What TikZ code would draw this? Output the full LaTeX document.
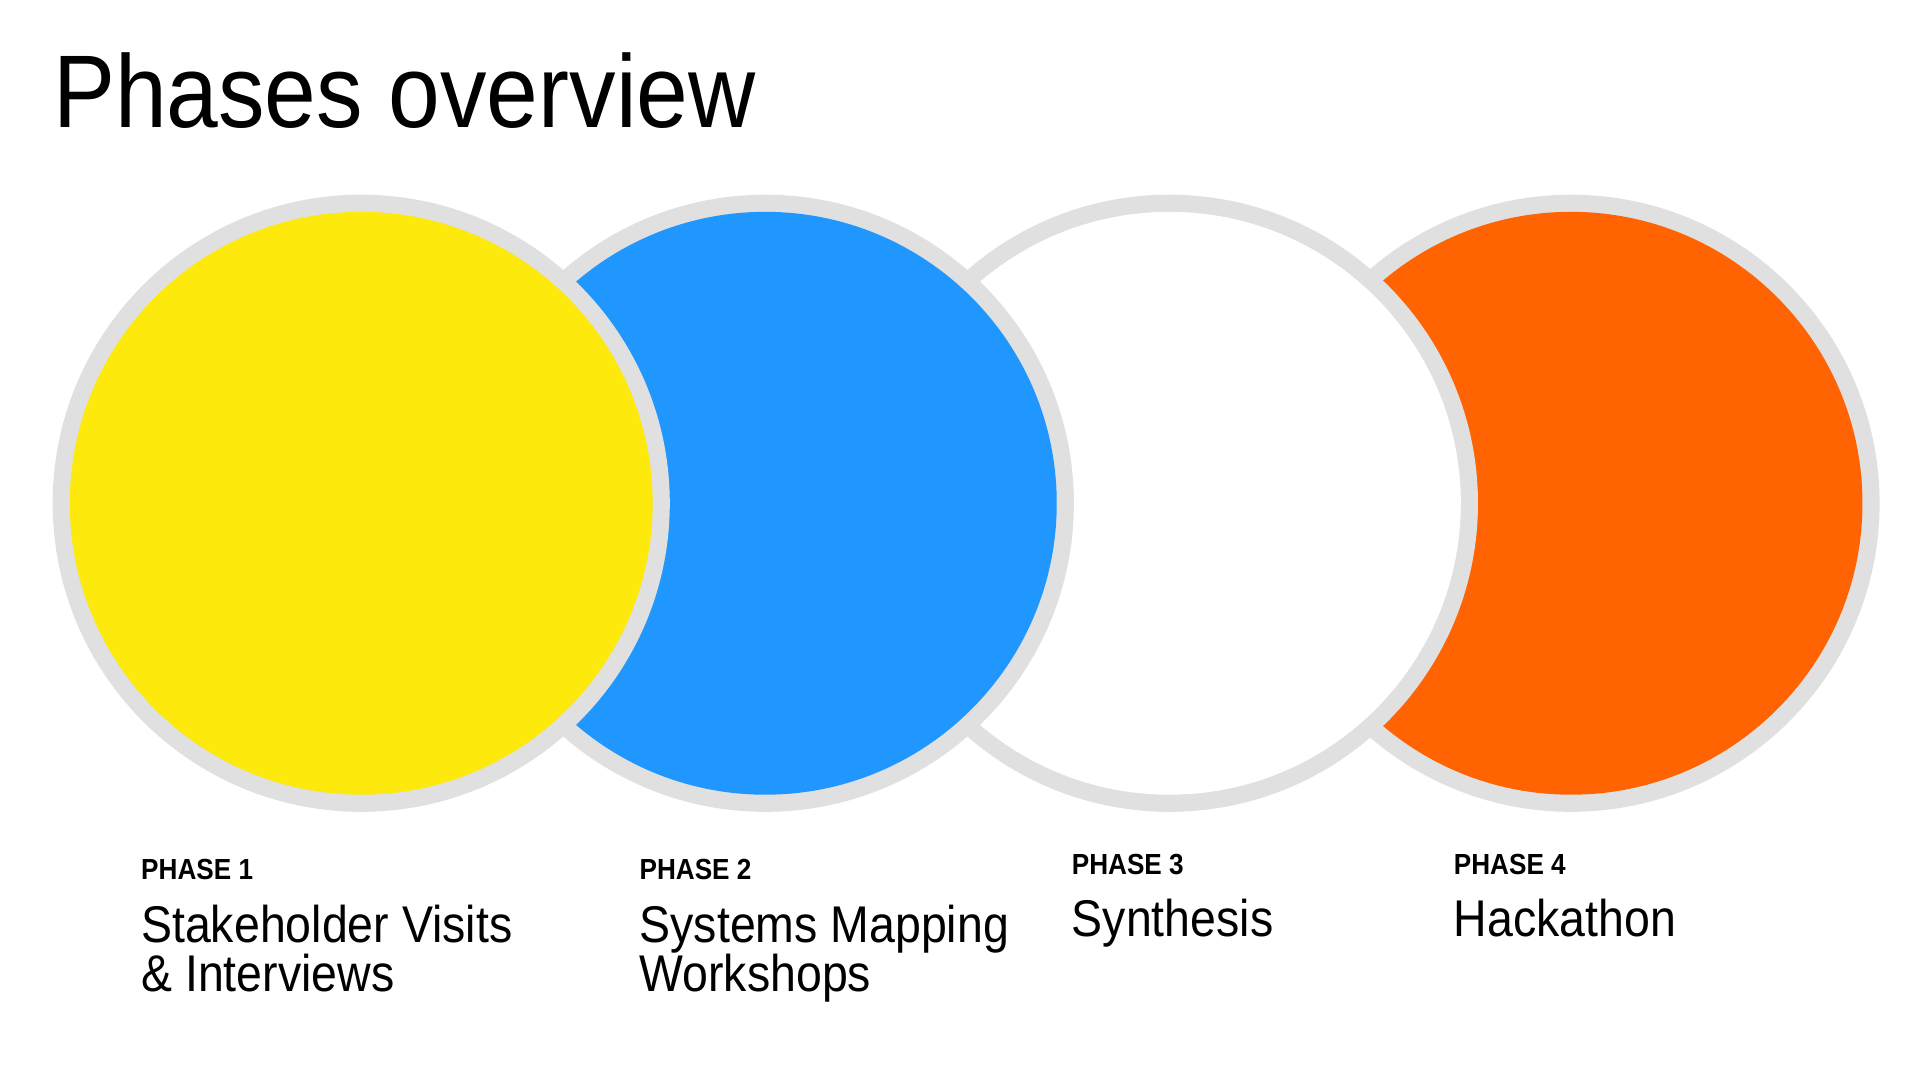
\documentclass[tikz,border=0pt]{standalone}
\usepackage{fontspec}
\setmainfont{Liberation Sans}[FakeStretch=0.9]
\usetikzlibrary{positioning}
\definecolor{ringgray}{HTML}{E0E0E0}
\definecolor{phyellow}{HTML}{FDE90B}
\definecolor{phblue}{HTML}{1F97FF}
\definecolor{phorange}{HTML}{FF6302}
\tikzset{
  phase/.style={anchor=base west, inner sep=0pt, font=\fontsize{13.5}{16}\selectfont\bfseries},
  title/.style={anchor=base west, inner sep=0pt, font=\fontsize{24}{24}\selectfont}
}
\begin{document}
\begin{tikzpicture}[x=0.02cm,y=-0.02cm]
\useasboundingbox (0,0) rectangle (1568,882);
%
\node[anchor=base west, inner sep=0pt, font=\fontsize{48}{48}\selectfont] (head) at (43,104) {Phases overview};
% circles, last one first
\foreach \x/\c in {1283/phorange,955/white,625/phblue,295/phyellow} {
\fill[ringgray] (\x,411) circle (252);
\fill[\c] (\x,411) circle (238);
}
% labels
\node[phase] (p1) at (115,718) {PHASE 1};
\node[title] (t1) at (115,770) {Stakeholder Visits};
\node[title] (t1b) at (115,810) {\& Interviews};
\node[phase] (p2) at (522,718) {PHASE 2};
\node[title] (t2) at (522,770) {Systems Mapping};
\node[title] (t2b) at (522,810) {Workshops};
\node[phase] (p3) at (875,714) {PHASE 3};
\node[title] (t3) at (875,765) {Synthesis};
\node[phase] (p4) at (1187,714) {PHASE 4};
\node[title] (t4) at (1187,765) {Hackathon};
\end{tikzpicture}
\end{document}
